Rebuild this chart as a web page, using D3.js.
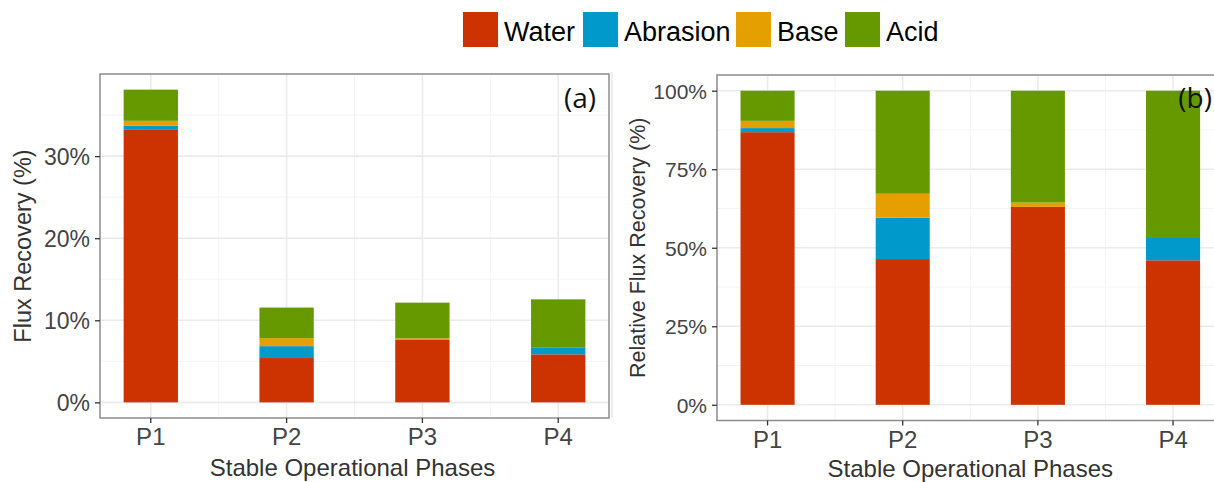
<!DOCTYPE html>
<html>
<head>
<meta charset="utf-8">
<script src="https://cdn.jsdelivr.net/npm/d3@7"></script>
<style>
  html, body { margin: 0; padding: 0; background: #ffffff; }
  svg { display: block; font-family: "Liberation Sans", Arial, sans-serif; }
</style>
</head>
<body>
<svg id="chart" width="1214" height="482"></svg>
<script>
// ---- data ----
const categories = ["P1", "P2", "P3", "P4"];
const seriesNames = ["Water", "Abrasion", "Base", "Acid"];
const seriesColors = ["#CC3300", "#0099CC", "#E69F00", "#669900"];

// panel (a): flux recovery (%)
const fluxWater    = [33.2, 5.4, 7.6, 5.85];
const fluxAbrasion = [0.5, 1.45, 0.0, 0.8];
const fluxBase     = [0.6, 0.97, 0.2, 0.0];
const fluxAcid     = [3.8, 3.73, 4.35, 5.9];

// panel (b): relative flux recovery (%)
const relWater    = [86.8, 46.4, 63.0, 46.0];
const relAbrasion = [1.3, 13.2, 0.0, 7.4];
const relBase     = [2.3, 7.6, 1.4, 0.0];
const relAcid     = [9.6, 32.8, 35.6, 46.6];

const fluxTicks = [0, 10, 20, 30];
const relTicks = [0, 25, 50, 75, 100];

const xTitle = "Stable Operational Phases";
const yTitleA = "Flux Recovery (%)";
const yTitleB = "Relative Flux Recovery (%)";

// ---- build tables ----
function table(w, ab, b, ac) {
  return categories.map((c, i) => ({ cat: c, Water: w[i], Abrasion: ab[i], Base: b[i], Acid: ac[i] }));
}
const rowsA = table(fluxWater, fluxAbrasion, fluxBase, fluxAcid);
const rowsB = table(relWater, relAbrasion, relBase, relAcid);

const svg = d3.select("#chart");
const color = d3.scaleOrdinal().domain(seriesNames).range(seriesColors);

function panel(cfg) {
  const g = svg.append("g");
  const x = d3.scaleBand().domain(categories)
    .range([cfg.left, cfg.right]).paddingInner(0.6).paddingOuter(0.174);
  const maxTotal = d3.max(cfg.rows, r => seriesNames.reduce((s, k) => s + r[k], 0));
  const pad = maxTotal * 0.05;
  const y = d3.scaleLinear().domain([-pad, maxTotal + pad]).range([cfg.bottom, cfg.top]);

  const clipId = "clip" + cfg.id;
  svg.append("clipPath").attr("id", clipId).append("rect")
    .attr("x", cfg.left).attr("y", cfg.top)
    .attr("width", cfg.right - cfg.left).attr("height", cfg.bottom - cfg.top);
  const inner = g.append("g").attr("clip-path", `url(#${clipId})`);

  // minor grid
  const minorY = [];
  for (let i = 0; i < cfg.ticks.length - 1; i++) minorY.push((cfg.ticks[i] + cfg.ticks[i + 1]) / 2);
  const stepT = cfg.ticks[1] - cfg.ticks[0];
  if (cfg.ticks[cfg.ticks.length - 1] + stepT / 2 < maxTotal + pad) minorY.push(cfg.ticks[cfg.ticks.length - 1] + stepT / 2);
  inner.selectAll(".minY").data(minorY).enter().append("line")
    .attr("x1", cfg.left).attr("x2", cfg.right)
    .attr("y1", d => y(d)).attr("y2", d => y(d))
    .attr("stroke", "#F4F4F4").attr("stroke-width", 1);
  const centers = categories.map(c => x(c) + x.bandwidth() / 2);
  const minorX = [];
  for (let i = 0; i < centers.length - 1; i++) minorX.push((centers[i] + centers[i + 1]) / 2);
  inner.selectAll(".minX").data(minorX).enter().append("line")
    .attr("x1", d => d).attr("x2", d => d)
    .attr("y1", cfg.top).attr("y2", cfg.bottom)
    .attr("stroke", "#F4F4F4").attr("stroke-width", 1);
  // major grid
  inner.selectAll(".majY").data(cfg.ticks).enter().append("line")
    .attr("x1", cfg.left).attr("x2", cfg.right)
    .attr("y1", d => y(d)).attr("y2", d => y(d))
    .attr("stroke", "#EBEBEB").attr("stroke-width", 1.6);
  inner.selectAll(".majX").data(categories).enter().append("line")
    .attr("x1", d => x(d) + x.bandwidth() / 2).attr("x2", d => x(d) + x.bandwidth() / 2)
    .attr("y1", cfg.top).attr("y2", cfg.bottom)
    .attr("stroke", "#EBEBEB").attr("stroke-width", 1.6);

  // bars
  const stacked = d3.stack().keys(seriesNames)(cfg.rows);
  inner.selectAll(".layer").data(stacked).enter().append("g")
    .attr("fill", d => color(d.key))
    .selectAll("rect").data(d => d).enter().append("rect")
    .attr("x", d => x(d.data.cat))
    .attr("width", x.bandwidth())
    .attr("y", d => y(d[1]))
    .attr("height", d => Math.max(0, y(d[0]) - y(d[1])));

  // border
  g.append("rect")
    .attr("x", cfg.left).attr("y", cfg.top)
    .attr("width", cfg.right - cfg.left).attr("height", cfg.bottom - cfg.top)
    .attr("fill", "none").attr("stroke", "#8C8C8C").attr("stroke-width", 1.5);

  // axes
  const ya = g.append("g").attr("transform", `translate(${cfg.left},0)`)
    .call(d3.axisLeft(y).tickValues(cfg.ticks).tickFormat(d => d + "%").tickSize(5).tickPadding(5));
  ya.select(".domain").remove();
  ya.selectAll("line").attr("stroke", "#333333").attr("stroke-width", 1.3);
  ya.selectAll("text").attr("fill", "#444444").style("font-size", cfg.tickFont + "px")
    .attr("dy", "0.36em");

  const xa = g.append("g").attr("transform", `translate(0,${cfg.bottom})`)
    .call(d3.axisBottom(x).tickSize(5).tickPadding(5));
  xa.select(".domain").remove();
  xa.selectAll("line").attr("stroke", "#333333").attr("stroke-width", 1.3);
  xa.selectAll("text").attr("fill", "#444444").style("font-size", cfg.catFont + "px");

  // titles
  g.append("text")
    .attr("x", (cfg.left + cfg.right) / 2 + cfg.xTitleShift)
    .attr("y", cfg.xTitleY)
    .attr("text-anchor", "middle").attr("fill", "#333333")
    .style("font-size", cfg.titleFont + "px").text(xTitle);
  g.append("text")
    .attr("transform", `translate(${cfg.yTitleX},${(cfg.top + cfg.bottom) / 2}) rotate(-90)`)
    .attr("text-anchor", "middle").attr("fill", "#333333")
    .style("font-size", cfg.yTitleFont + "px").text(cfg.yTitle);

  // panel label
  g.append("text")
    .attr("x", cfg.labelX).attr("y", cfg.labelY)
    .attr("text-anchor", "end").attr("fill", "#111111")
    .style("font-family", "'Open Sans', 'Noto Sans', sans-serif")
    .style("font-size", "28px").text(cfg.label);
}

panel({
  id: "a", rows: rowsA, ticks: fluxTicks,
  left: 100, right: 609, top: 74, bottom: 418,
  tickFont: 23, catFont: 24, titleFont: 24, yTitleFont: 23.5,
  xTitleY: 476, xTitleShift: -2, yTitleX: 31, yTitle: yTitleA,
  label: "(a)", labelX: 596, labelY: 108
});

panel({
  id: "b", rows: rowsB, ticks: relTicks,
  left: 717, right: 1223.6, top: 75, bottom: 420.5,
  tickFont: 21, catFont: 24, titleFont: 24, yTitleFont: 21.5,
  xTitleY: 477, xTitleShift: 0, yTitleX: 645, yTitle: yTitleB,
  label: "(b)", labelX: 1212, labelY: 108
});

// faint separator line from pasted panel edge
svg.append("line").attr("x1", 612).attr("x2", 612).attr("y1", 72).attr("y2", 418)
  .attr("stroke", "#DDDDDD").attr("stroke-width", 1);

// ---- legend ----
const legend = svg.append("g");
const legendX = [463, 583, 736, 845];
seriesNames.forEach((name, i) => {
  legend.append("rect")
    .attr("x", legendX[i]).attr("y", 12).attr("width", 35).attr("height", 35)
    .attr("fill", color(name));
  legend.append("text")
    .attr("x", legendX[i] + 41).attr("y", 41)
    .attr("fill", "#000000").style("font-size", "27px").text(name);
});
</script>
</body>
</html>
